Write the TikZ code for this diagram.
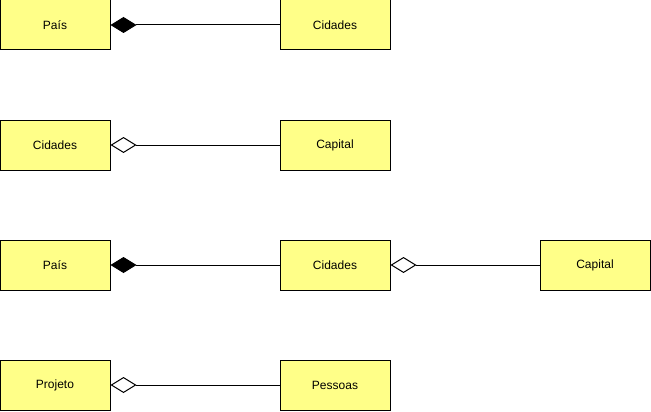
\documentclass[tikz,border=0pt]{standalone}
\usepackage{fontspec}
\setmainfont{Liberation Sans}
\usetikzlibrary{arrows.meta}

\definecolor{classfill}{HTML}{FFFF88}

\tikzset{
  classbox/.style={draw, line width=1pt, fill=classfill, minimum width=110pt,
                   minimum height=50pt, inner sep=0pt, font=\fontsize{12pt}{14pt}\selectfont},
  composition/.style={line width=1pt, {Diamond[length=26pt, width=16pt, line width=1pt]}-},
  aggregation/.style={line width=1pt, {Diamond[open, length=26pt, width=16pt, line width=1pt, fill=white]}-}
}

\begin{document}
\begin{tikzpicture}[x=1pt, y=-1pt]

\useasboundingbox (0,0) rectangle (651,412);

\node[classbox] (pais1) at (55, 25) {País};
\node[classbox] (cidades1) at (335, 25) {Cidades};
\draw[composition] (pais1.east) -- (cidades1.west);

\node[classbox] (cidades2) at (55, 145) {Cidades};
\node[classbox] (capital2) at (335, 145) {Capital};
\draw[aggregation] (cidades2.east) -- (capital2.west);

\node[classbox] (pais3) at (55, 265) {País};
\node[classbox] (cidades3) at (335, 265) {Cidades};
\node[classbox] (capital3) at (595, 265) {Capital};
\draw[composition] (pais3.east) -- (cidades3.west);
\draw[aggregation] (cidades3.east) -- (capital3.west);

\node[classbox] (projeto4) at (55, 385) {Projeto};
\node[classbox] (pessoas4) at (335, 385) {Pessoas};
\draw[aggregation] (projeto4.east) -- (pessoas4.west);

\end{tikzpicture}
\end{document}
